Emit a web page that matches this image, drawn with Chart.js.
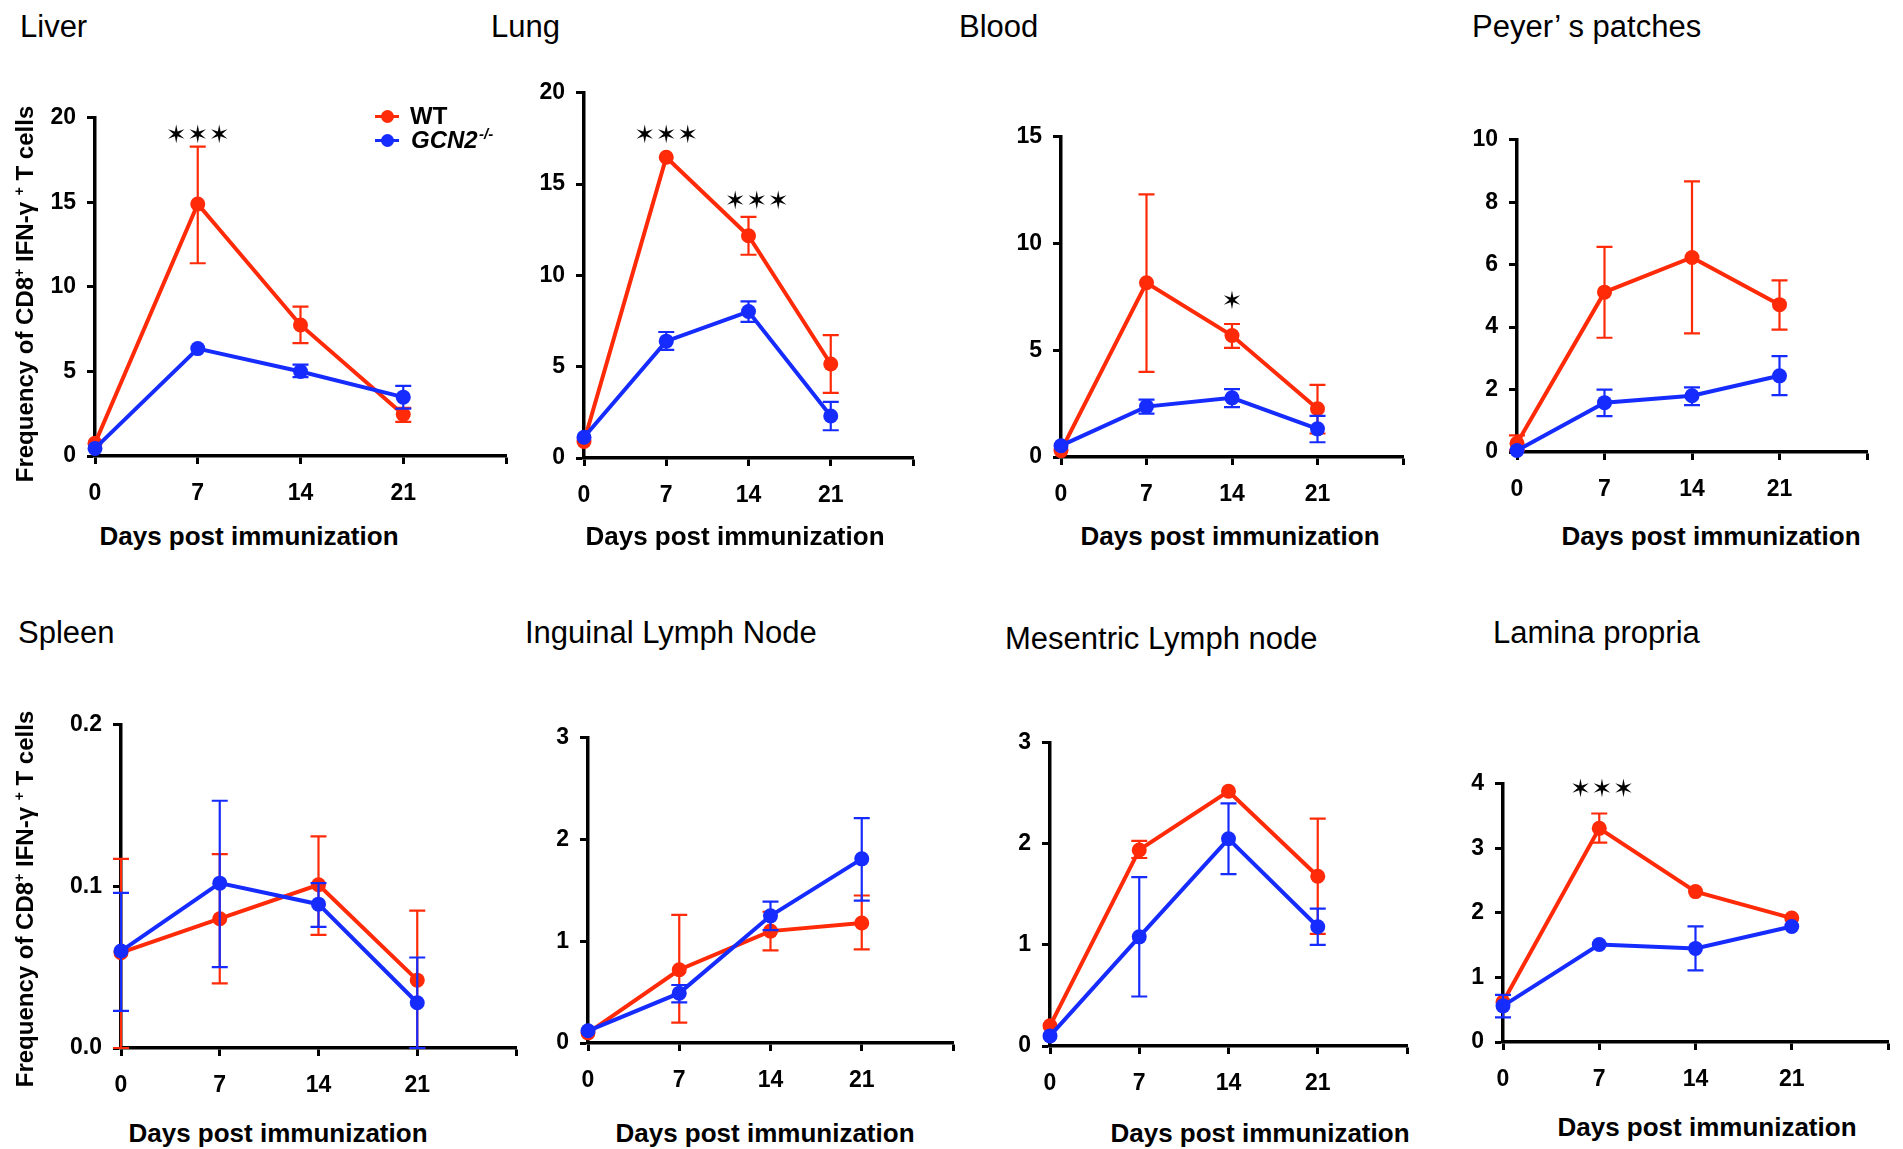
<!DOCTYPE html>
<html>
<head>
<meta charset="utf-8">
<script src="https://cdn.jsdelivr.net/npm/chart.js@4.4.0/dist/chart.umd.min.js"></script>
<style>
  body { margin: 0; background: #fff; width: 1903px; height: 1149px; position: relative; overflow: hidden;
         font-family: "Liberation Sans", Arial, sans-serif; color: #000; }
  .txt { position: absolute; white-space: nowrap; line-height: 1; }
  .ttl { font-size: 31px; }
  .xt { font-size: 26px; font-weight: bold; transform: translateX(-50%); }
  .yt { font-size: 24px; font-weight: bold; transform: translate(-50%, -50%) rotate(-90deg); }
  .yt sup { font-size: 14px; vertical-align: 9px; line-height: 0; }
  .lg { font-size: 24px; font-weight: bold; }
  .lgline { position: absolute; height: 3px; width: 24px; }
  .lgdot { position: absolute; width: 13px; height: 13px; border-radius: 50%; }
  canvas { position: absolute; }
</style>
</head>
<body>
<script>
const days = [0, 7, 14, 21];

// Liver
const liverWT = [0.75, 14.9, 7.75, 2.45];
const liverWTLo = [null, 11.4, 6.67, 2.02];
const liverWTHi = [null, 18.3, 8.83, 2.85];
const liverKO = [0.45, 6.35, 5.0, 3.48];
const liverKOLo = [null, null, 4.67, 2.8];
const liverKOHi = [null, null, 5.4, 4.15];
const liverStars = [{ x: 7, y: 18.9, n: 3 }];

// Lung
const lungWT = [0.9, 16.47, 12.17, 5.15];
const lungWTLo = [null, null, 11.13, 3.57];
const lungWTHi = [null, null, 13.2, 6.73];
const lungKO = [1.14, 6.4, 8.02, 2.3];
const lungKOLo = [null, 5.92, 7.46, 1.52];
const lungKOHi = [null, 6.9, 8.58, 3.07];
const lungStars = [{ x: 7, y: 17.6, n: 3 }, { x: 14.7, y: 14.0, n: 3 }];

// Blood
const bloodWT = [0.3, 8.16, 5.69, 2.26];
const bloodWTLo = [null, 3.99, 5.11, 1.1];
const bloodWTHi = [null, 12.3, 6.23, 3.38];
const bloodKO = [0.53, 2.36, 2.77, 1.32];
const bloodKOLo = [null, 2.03, 2.34, 0.69];
const bloodKOHi = [null, 2.69, 3.18, 1.93];
const bloodStars = [{ x: 14, y: 7.25, n: 1 }];

// Peyer's patches
const peyerWT = [0.28, 5.12, 6.23, 4.72];
const peyerWTLo = [0.05, 3.66, 3.8, 3.92];
const peyerWTHi = [0.53, 6.57, 8.67, 5.5];
const peyerKO = [0.05, 1.58, 1.8, 2.44];
const peyerKOLo = [null, 1.15, 1.5, 1.82];
const peyerKOHi = [null, 2.0, 2.07, 3.07];

// Spleen
const spleenWT = [0.059, 0.080, 0.101, 0.042];
const spleenWTLo = [0, 0.040, 0.070, 0];
const spleenWTHi = [0.117, 0.120, 0.131, 0.085];
const spleenKO = [0.060, 0.102, 0.089, 0.028];
const spleenKOLo = [0.023, 0.050, 0.075, 0];
const spleenKOHi = [0.096, 0.153, 0.102, 0.056];

// Inguinal lymph node
const inguinalWT = [0.1, 0.72, 1.1, 1.18];
const inguinalWTLo = [null, 0.2, 0.91, 0.92];
const inguinalWTHi = [null, 1.26, 1.29, 1.45];
const inguinalKO = [0.12, 0.49, 1.25, 1.81];
const inguinalKOLo = [null, 0.4, 1.11, 1.4];
const inguinalKOHi = [null, 0.57, 1.39, 2.21];

// Mesentric lymph node
const mesWT = [0.2, 1.94, 2.52, 1.68];
const mesWTLo = [null, 1.86, null, 1.11];
const mesWTHi = [null, 2.03, null, 2.25];
const mesKO = [0.1, 1.08, 2.05, 1.18];
const mesKOLo = [null, 0.49, 1.7, 1.0];
const mesKOHi = [null, 1.67, 2.4, 1.36];

// Lamina propria
const laminaWT = [0.62, 3.31, 2.33, 1.92];
const laminaWTLo = [null, 3.09, null, null];
const laminaWTHi = [null, 3.54, null, null];
const laminaKO = [0.56, 1.51, 1.45, 1.79];
const laminaKOLo = [0.38, null, 1.11, null];
const laminaKOHi = [0.73, null, 1.79, null];
const laminaStars = [{ x: 7.2, y: 3.9, n: 3 }];

const RED = 'rgb(255,42,8)';
const BLUE = 'rgb(22,44,255)';
const FONT = '"Liberation Sans", Arial, sans-serif';

Chart.defaults.font.family = FONT;
Chart.defaults.color = '#000';

// error bars are drawn just before their own series
const errorBars = {
  id: 'errorBars',
  beforeDatasetDraw(chart, args) {
    const ds = chart.data.datasets[args.index];
    if (!ds.errLo) return;
    const xs = chart.scales.x, ys = chart.scales.y, ctx = chart.ctx;
    ctx.save();
    ctx.strokeStyle = ds.borderColor;
    ctx.lineWidth = 2.2;
    ds.data.forEach((pt, i) => {
      const lo = ds.errLo[i], hi = ds.errHi[i];
      if (lo == null && hi == null) return;
      const px = xs.getPixelForValue(pt.x);
      const yl = ys.getPixelForValue(lo == null ? pt.y : lo);
      const yh = ys.getPixelForValue(hi == null ? pt.y : hi);
      ctx.beginPath();
      ctx.moveTo(px, yl); ctx.lineTo(px, yh);
      if (hi != null) { ctx.moveTo(px - 8, yh); ctx.lineTo(px + 8, yh); }
      if (lo != null) { ctx.moveTo(px - 8, yl); ctx.lineTo(px + 8, yl); }
      ctx.stroke();
    });
    ctx.restore();
  }
};

const stars = {
  id: 'stars',
  afterDatasetsDraw(chart, args, opts) {
    const marks = opts.marks || [];
    const xs = chart.scales.x, ys = chart.scales.y, ctx = chart.ctx;
    ctx.save();
    ctx.font = 'bold 25px "DejaVu Sans"';
    ctx.textAlign = 'center';
    ctx.textBaseline = 'middle';
    ctx.fillStyle = '#000';
    marks.forEach(m => {
      const px = xs.getPixelForValue(m.x), py = ys.getPixelForValue(m.y);
      for (let k = 0; k < m.n; k++) ctx.fillText('\u2736', px + (k - (m.n - 1) / 2) * 21.5, py);
    });
    ctx.restore();
  }
};

function series(label, vals, lo, hi, color, order) {
  return {
    label,
    data: days.map((d, i) => ({ x: d, y: vals[i] })),
    errLo: lo, errHi: hi,
    borderColor: color, backgroundColor: color,
    pointBackgroundColor: color, pointBorderWidth: 0,
    pointRadius: 7.5, borderWidth: 4, tension: 0,
    clip: false, order
  };
}

const PAD_L = 80, PAD_T = 20, PAD_R = 6, PAD_B = 50;

function panel(p) {
  const left = p.x0 - PAD_L, top = p.yTop - PAD_T;
  const w = p.x1 + PAD_R - left, h = p.y0 + PAD_B - top;
  const c = document.createElement('canvas');
  c.width = w; c.height = h;
  c.style.left = left + 'px'; c.style.top = top + 'px';
  c.style.width = w + 'px'; c.style.height = h + 'px';
  document.body.appendChild(c);

  const axisGrid = { drawOnChartArea: false, drawTicks: true, tickLength: 8, tickWidth: 3, tickColor: '#000' };
  const axisBorder = { display: true, color: '#000', width: 3.5 };
  const tickFont = { size: 23, weight: 'bold', family: FONT };

  new Chart(c, {
    type: 'line',
    data: {
      datasets: [
        series('WT', p.wt, p.wtLo, p.wtHi, RED, 1),
        series('GCN2 -/-', p.ko, p.koLo, p.koHi, BLUE, 0)
      ]
    },
    options: {
      responsive: false,
      animation: false,
      devicePixelRatio: 1,
      layout: { padding: { left: 0, top: PAD_T, right: PAD_R, bottom: 0 } },
      plugins: { legend: { display: false }, tooltip: { enabled: false }, stars: { marks: p.stars || [] } },
      scales: {
        x: {
          type: 'linear', min: 0, max: 28,
          grid: axisGrid, border: axisBorder,
          ticks: { stepSize: 7, font: tickFont, padding: 16, maxRotation: 0, color: '#000',
                   callback: v => (v === 28 ? '' : v) },
          afterFit: s => { s.height = PAD_B; }
        },
        y: {
          min: 0, max: p.yMax,
          grid: axisGrid, border: axisBorder,
          ticks: { stepSize: p.yStep, font: tickFont, padding: 11, color: '#000',
                   callback: v => (p.dec ? v.toFixed(p.dec) : v) },
          afterFit: s => { s.width = PAD_L; }
        }
      }
    },
    plugins: [errorBars, stars]
  });
}

function text(cls, html, x, baseline, fs) {
  const d = document.createElement('div');
  d.className = 'txt ' + cls;
  d.innerHTML = html;
  d.style.left = x + 'px';
  d.style.top = (baseline - 0.8465 * fs) + 'px';
  document.body.appendChild(d);
  return d;
}

const panels = [
  { title: 'Liver', tx: 20, ty: 37, x0: 95, x1: 516, yTop: 113, y0: 456, yMax: 20, yStep: 5, xc: 249, xb: 545,
    wt: liverWT, wtLo: liverWTLo, wtHi: liverWTHi, ko: liverKO, koLo: liverKOLo, koHi: liverKOHi, stars: liverStars },
  { title: 'Lung', tx: 491, ty: 37, x0: 584, x1: 923, yTop: 88, y0: 458, yMax: 20, yStep: 5, xc: 735, xb: 545,
    wt: lungWT, wtLo: lungWTLo, wtHi: lungWTHi, ko: lungKO, koLo: lungKOLo, koHi: lungKOHi, stars: lungStars },
  { title: 'Blood', tx: 959, ty: 37, x0: 1061, x1: 1413, yTop: 132, y0: 457, yMax: 15, yStep: 5, xc: 1230, xb: 545,
    wt: bloodWT, wtLo: bloodWTLo, wtHi: bloodWTHi, ko: bloodKO, koLo: bloodKOLo, koHi: bloodKOHi, stars: bloodStars },
  { title: 'Peyer\u2019 s patches', tx: 1472, ty: 37, x0: 1517, x1: 1877, yTop: 135, y0: 452, yMax: 10, yStep: 2, xc: 1711, xb: 545,
    wt: peyerWT, wtLo: peyerWTLo, wtHi: peyerWTHi, ko: peyerKO, koLo: peyerKOLo, koHi: peyerKOHi },
  { title: 'Spleen', tx: 18, ty: 643, x0: 121, x1: 526, yTop: 720, y0: 1048, yMax: 0.2, yStep: 0.1, dec: 1, xc: 278, xb: 1142,
    wt: spleenWT, wtLo: spleenWTLo, wtHi: spleenWTHi, ko: spleenKO, koLo: spleenKOLo, koHi: spleenKOHi },
  { title: 'Inguinal Lymph Node', tx: 525, ty: 643, x0: 588, x1: 963, yTop: 733, y0: 1043, yMax: 3, yStep: 1, xc: 765, xb: 1142,
    wt: inguinalWT, wtLo: inguinalWTLo, wtHi: inguinalWTHi, ko: inguinalKO, koLo: inguinalKOLo, koHi: inguinalKOHi },
  { title: 'Mesentric Lymph node', tx: 1005, ty: 649, x0: 1050, x1: 1417, yTop: 738, y0: 1046, yMax: 3, yStep: 1, xc: 1260, xb: 1142,
    wt: mesWT, wtLo: mesWTLo, wtHi: mesWTHi, ko: mesKO, koLo: mesKOLo, koHi: mesKOHi },
  { title: 'Lamina propria', tx: 1493, ty: 643, x0: 1503, x1: 1898, yTop: 779, y0: 1042, yMax: 4, yStep: 1, xc: 1707, xb: 1136,
    wt: laminaWT, wtLo: laminaWTLo, wtHi: laminaWTHi, ko: laminaKO, koLo: laminaKOLo, koHi: laminaKOHi, stars: laminaStars }
];

panels.forEach(p => {
  panel(p);
  text('ttl', p.title, p.tx, p.ty, 31);
  text('xt', 'Days post immunization', p.xc, p.xb, 26);
});

// rotated y-axis titles
const yTitle = 'Frequency of CD8<sup>+</sup> IFN-\u03b3 <sup>+</sup> T cells';
[[25, 294], [25, 899]].forEach(([cx, cy]) => {
  const d = document.createElement('div');
  d.className = 'txt yt';
  d.innerHTML = yTitle;
  d.style.left = cx + 'px';
  d.style.top = cy + 'px';
  document.body.appendChild(d);
});

// legend (Liver panel)
[[RED, 116], [BLUE, 140]].forEach(([col, y]) => {
  const l = document.createElement('div');
  l.className = 'lgline'; l.style.background = col; l.style.left = '375px'; l.style.top = (y - 1.5) + 'px';
  document.body.appendChild(l);
  const d = document.createElement('div');
  d.className = 'lgdot'; d.style.background = col; d.style.left = '380.5px'; d.style.top = (y - 6.5) + 'px';
  document.body.appendChild(d);
});
text('lg', 'WT', 410, 124, 24);
text('lg', '<i>GCN2</i>', 411, 148, 24);
text('lg', '<i>-/-</i>', 479, 139, 15).style.fontSize = '15px';
</script>
</body>
</html>
